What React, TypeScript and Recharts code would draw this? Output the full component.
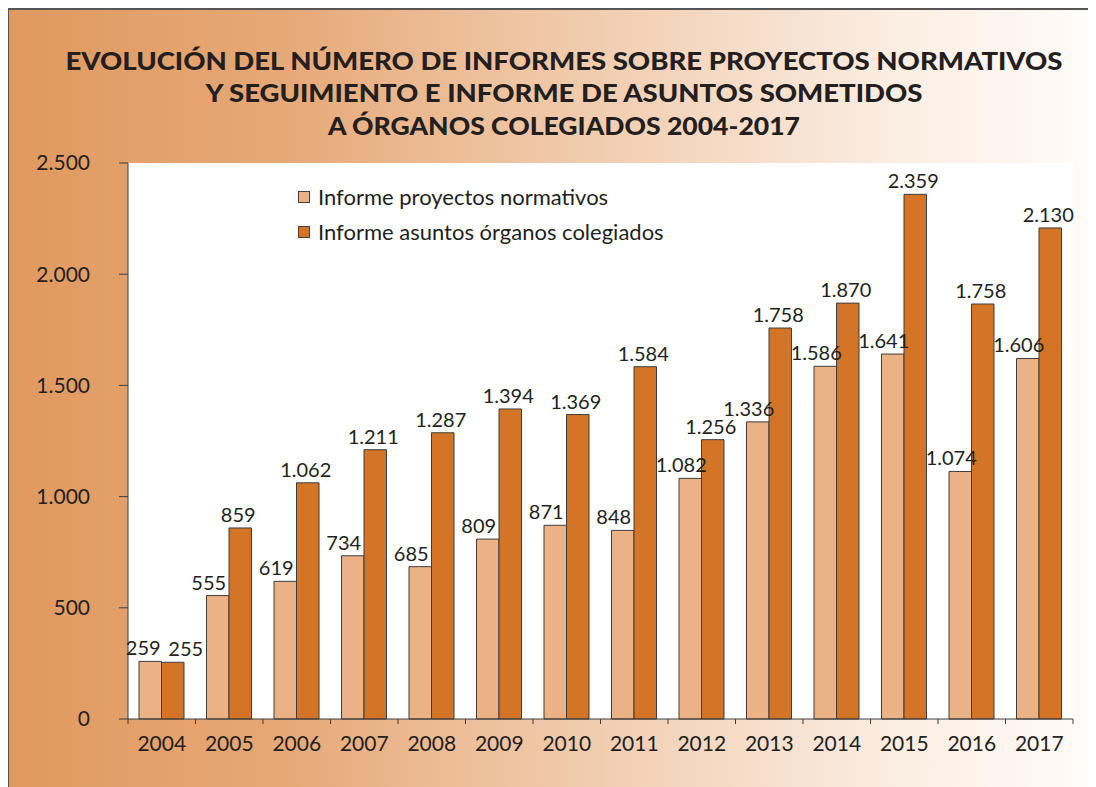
import React from 'react';
import { BarChart, Bar, XAxis, YAxis, CartesianGrid, LabelList } from 'recharts';

const years = ['2004', '2005', '2006', '2007', '2008', '2009', '2010', '2011', '2012', '2013', '2014', '2015', '2016', '2017'];
const normativos = [259, 555, 619, 734, 685, 809, 871, 848, 1082, 1336, 1586, 1641, 1113, 1621];
const normativosLabels = ['259', '555', '619', '734', '685', '809', '871', '848', '1.082', '1.336', '1.586', '1.641', '1.074', '1.606'];
const asuntos = [255, 859, 1062, 1211, 1287, 1394, 1369, 1584, 1256, 1758, 1870, 2359, 1866, 2208];
const asuntosLabels = ['255', '859', '1.062', '1.211', '1.287', '1.394', '1.369', '1.584', '1.256', '1.758', '1.870', '2.359', '1.758', '2.130'];
const yTicks = [0, 500, 1000, 1500, 2000, 2500];
const seriesNames = ['Informe proyectos normativos', 'Informe asuntos órganos colegiados'];
const titleLines = [
  'EVOLUCIÓN DEL NÚMERO DE INFORMES SOBRE PROYECTOS NORMATIVOS',
  'Y SEGUIMIENTO E INFORME DE ASUNTOS SOMETIDOS',
  'A ÓRGANOS COLEGIADOS 2004-2017',
];

const LIGHT = '#EAB285';
const DARK = '#D37426';
const STROKE = '#3d3d3d';
const FONT = 'Lato, "Open Sans", sans-serif';

const W = 1088;
const H = 779;
const MARGIN = { top: 155, right: 23, bottom: 0, left: 0 };
const Y_W = 120;
const X_H = 68;
const BAND = (W - MARGIN.left - Y_W - MARGIN.right) / years.length;

const data = years.map((y, i) => ({
  year: y,
  normativos: normativos[i],
  asuntos: asuntos[i],
  nLabel: normativosLabels[i],
  aLabel: asuntosLabels[i],
}));

const fmt = (v: number) => String(v).replace(/\B(?=(\d{3})+(?!\d))/g, '.');

const XTick = (props: any) => {
  const { x, y, payload, index } = props;
  const half = BAND / 2;
  return (
    <g>
      <line x1={x - half} x2={x - half} y1={y} y2={y + 5} stroke={STROKE} strokeWidth={1} />
      {index === years.length - 1 && (
        <line x1={x + half} x2={x + half} y1={y} y2={y + 5} stroke={STROKE} strokeWidth={1} />
      )}
      <text x={x} y={y + 32} textAnchor="middle" fontSize={21} fill="#231f20" fontFamily={FONT}>
        {payload.value}
      </text>
    </g>
  );
};

const makeLabel = (dxDefault: number, dxFirst: number) => (props: any) => {
  const { x, y, width, value, index } = props;
  const dx = index === 0 ? dxFirst : dxDefault;
  return (
    <text
      x={Number(x) + Number(width) / 2 + dx}
      y={Number(y) - 6}
      textAnchor="middle"
      fontSize={20}
      fill="#231f20"
      fontFamily={FONT}
    >
      {value}
    </text>
  );
};

export default function App() {
  return (
    <div
      style={{
        position: 'relative',
        width: W,
        height: H,
        overflow: 'hidden',
        fontFamily: FONT,
        background: 'linear-gradient(to right, #E0995F 0%, #E6A877 25%, #EEC29F 45%, #F5DAC4 65%, #FBEEE3 82%, #FFFCF9 100%)',
      }}
    >
      <div style={{ position: 'absolute', left: 0, top: 0, width: W, height: 2, background: '#555555' }} />
      <div style={{ position: 'absolute', left: 0, top: 0, width: 1, height: H, background: '#555555' }} />
      <svg style={{ position: 'absolute', left: 0, top: 0 }} width={W} height={150}>
        {titleLines.map((t, i) => (
          <text
            key={i}
            x={556}
            y={[61.5, 94, 126.5][i]}
            textAnchor="middle"
            fontSize={24}
            fontWeight={900}
            fill="#231f20"
            fontFamily={FONT}
            textLength={[997, 717, 472][i]}
            lengthAdjust="spacingAndGlyphs"
          >
            {t}
          </text>
        ))}
      </svg>
      <div style={{ position: 'absolute', left: 0, top: 0 }}>
        <BarChart width={W} height={H} data={data} margin={MARGIN} barGap={0} barSize={22.5}>
          <CartesianGrid horizontal={false} vertical={false} fill="#ffffff" />
          <XAxis
            dataKey="year"
            height={X_H}
            tickSize={0}
            tickMargin={0}
            tickLine={false}
            interval={0}
            stroke={STROKE}
            tick={<XTick />}
          />
          <YAxis
            width={Y_W}
            domain={[0, 2500]}
            ticks={yTicks}
            interval={0}
            tickSize={9}
            tickMargin={29}
            stroke={STROKE}
            tickFormatter={fmt}
            tick={{ fontSize: 21, fill: '#231f20', fontFamily: FONT }}
          />
          <Bar dataKey="normativos" name={seriesNames[0]} fill={LIGHT} stroke={STROKE} strokeWidth={1} isAnimationActive={false}>
            <LabelList dataKey="nLabel" content={makeLabel(-9, -7)} />
          </Bar>
          <Bar dataKey="asuntos" name={seriesNames[1]} fill={DARK} stroke={STROKE} strokeWidth={1} isAnimationActive={false}>
            <LabelList dataKey="aLabel" content={makeLabel(-2, 13)} />
          </Bar>
        </BarChart>
      </div>
      <div style={{ position: 'absolute', left: 290, top: 171 }}>
        {seriesNames.map((n, i) => (
          <div key={n} style={{ display: 'flex', alignItems: 'center', height: 35 }}>
            <span
              style={{
                display: 'inline-block',
                width: 10,
                height: 10,
                background: i === 0 ? LIGHT : DARK,
                border: `1px solid ${STROKE}`,
                marginRight: 8,
              }}
            />
            <span style={{ fontSize: 22, color: '#231f20' }}>{n}</span>
          </div>
        ))}
      </div>
    </div>
  );
}
